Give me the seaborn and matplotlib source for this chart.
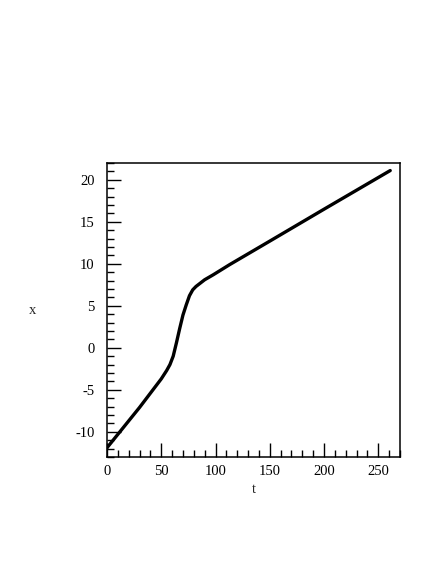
import numpy as np
import pandas as pd
import matplotlib
matplotlib.use("Agg")
import matplotlib.pyplot as plt
import seaborn as sns
from matplotlib.ticker import MultipleLocator

# values
t_vals = [0, 10, 20, 30, 40, 50, 55, 58, 61, 64, 67, 70, 73, 76, 79, 82, 86, 90, 98, 113, 150, 200, 261]
x_vals = [-11.9, -10.3, -8.7, -7.1, -5.4, -3.7, -2.7, -2.0, -1.0, 0.6, 2.3, 3.9, 5.1, 6.2,
          6.9, 7.3, 7.7, 8.1, 8.7, 9.9, 12.7, 16.5, 21.1]
x_ticks = [0, 50, 100, 150, 200, 250]
y_ticks = [-10, -5, 0, 5, 10, 15, 20]

df = pd.DataFrame({"t": t_vals, "x": x_vals})

sns.set_style("white")
plt.rcParams["font.family"] = ["Liberation Serif", "DejaVu Serif"]
plt.rcParams["axes.unicode_minus"] = False

fig = plt.figure(figsize=(4.36, 5.64), dpi=100)
ax = fig.add_axes([0.2454, 0.1897, 0.672, 0.5213])

sns.lineplot(data=df, x="t", y="x", ax=ax, color="black", linewidth=2.4, sort=False)

ax.set_xlim(0, 270)
ax.set_ylim(-13, 22)
ax.set_xticks(x_ticks)
ax.set_yticks(y_ticks)
ax.xaxis.set_minor_locator(MultipleLocator(10))
ax.yaxis.set_minor_locator(MultipleLocator(1))

ax.tick_params(which="major", direction="in", length=10, width=1.0, labelsize=10.5,
               top=False, right=False, bottom=True, left=True, pad=6, colors="black")
ax.tick_params(axis="y", which="major", pad=9)
ax.tick_params(which="minor", direction="in", length=5, width=1.0,
               top=False, right=False, bottom=True, left=True, colors="black")

for sp in ax.spines.values():
    sp.set_visible(True)
    sp.set_color("black")
    sp.set_linewidth(1.1)

ax.set_xlabel("t", fontsize=10.5, labelpad=3)
ax.set_ylabel("x", fontsize=10.5, rotation=0, labelpad=31, va="center")

fig.savefig("out.png", dpi=100)
